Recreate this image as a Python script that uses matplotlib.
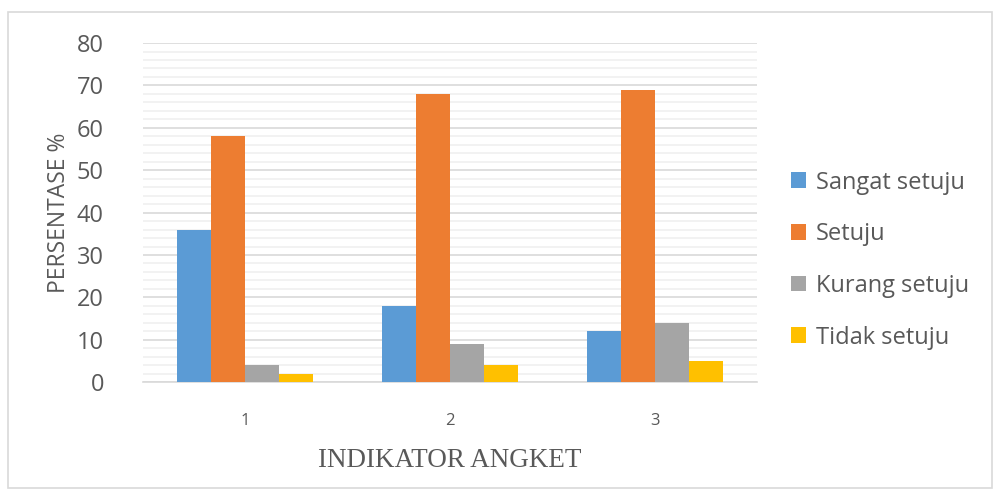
import matplotlib
matplotlib.use("Agg")
import matplotlib.pyplot as plt
import numpy as np
from matplotlib.patches import Rectangle
from matplotlib.ticker import MultipleLocator

# survey responses per indicator, in percent
INDIKATOR = ["1", "2", "3"]
SANGAT_SETUJU = [36, 18, 12]
SETUJU = [58, 68, 69]
KURANG_SETUJU = [4, 9, 14]
TIDAK_SETUJU = [2, 4, 5]

SERIES = [
    ("Sangat setuju", SANGAT_SETUJU, "#5b9bd5"),
    ("Setuju", SETUJU, "#ed7d31"),
    ("Kurang setuju", KURANG_SETUJU, "#a5a5a5"),
    ("Tidak setuju", TIDAK_SETUJU, "#ffc000"),
]

TEXT = "#595959"
plt.rcParams["font.family"] = ["Open Sans", "DejaVu Sans"]

fig = plt.figure(figsize=(9.99, 4.95), dpi=100)
fig.patches.append(Rectangle((0.008, 0.015), 0.985, 0.96, transform=fig.transFigure,
                             fill=False, edgecolor="#d9d9d9", linewidth=1.2))
ax = fig.add_axes([0.143, 0.228, 0.615, 0.685])

x = np.arange(1, len(INDIKATOR) + 1)
width = 0.166
for i, (name, vals, color) in enumerate(SERIES):
    ax.bar(x + (i - 1.5) * width, vals, width, color=color, label=name, zorder=3)

ax.set_xlim(0.5, 3.5)
ax.set_ylim(0, 80)
ax.yaxis.set_major_locator(MultipleLocator(10))
ax.yaxis.set_minor_locator(MultipleLocator(2))
ax.grid(axis="y", which="major", color="#d9d9d9", linewidth=1.2, zorder=0)
ax.grid(axis="y", which="minor", color="#f0f0f0", linewidth=1.2, zorder=0)
ax.set_xticks(x)
ax.set_xticklabels(INDIKATOR)
for side in ["top", "right", "left"]:
    ax.spines[side].set_visible(False)
ax.spines["bottom"].set_color("#d9d9d9")
ax.spines["bottom"].set_linewidth(1.2)
ax.tick_params(axis="y", which="both", length=0, labelsize=17, labelcolor=TEXT, pad=28)
ax.tick_params(axis="x", length=0, labelsize=12, labelcolor=TEXT, pad=22)

ax.set_ylabel("PERSENTASE %", fontsize=16.5, color=TEXT, labelpad=4)
ax.set_xlabel("INDIKATOR ANGKET", fontsize=19.5, color=TEXT,
              family=["Liberation Serif", "DejaVu Serif"], labelpad=14)

leg = ax.legend(loc="center left", bbox_to_anchor=(1.02, 0.36), frameon=False,
                fontsize=17, labelcolor=TEXT, handlelength=0.65, handleheight=0.65,
                handletextpad=0.4, labelspacing=1.17)

fig.savefig("out.png", dpi=100)
